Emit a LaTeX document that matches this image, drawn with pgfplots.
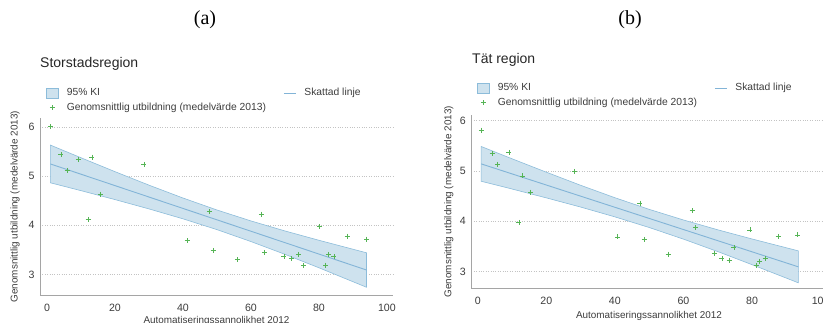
\documentclass[border=0pt]{standalone}
\usepackage{pgfplots}
\pgfplotsset{compat=1.18}
\usepackage{fontspec}
\setmainfont{Liberation Sans}
\newfontfamily\timesfont{Liberation Serif}
\definecolor{bandfill}{RGB}{206,226,238}
\definecolor{bandedge}{RGB}{140,188,218}
\definecolor{linecol}{RGB}{130,180,215}
\definecolor{ptcol}{RGB}{85,180,85}
\definecolor{axcol}{RGB}{165,165,165}
\definecolor{gridcol}{RGB}{195,195,195}
\definecolor{txtcol}{RGB}{60,60,60}
\pgfplotsset{
  panel/.style={
    scale only axis,
    axis x line*=bottom, axis y line*=left,
    axis line style={axcol, line width=0.9pt},
    xtick={0,20,...,100}, ytick={3,4,5,6},
    major tick length=0pt,
    ymajorgrids, grid style={gridcol, dotted, line width=0.7pt},
    /pgf/number format/assume math mode=true,
    tick label style={font=\fontsize{10.6}{10.6}\selectfont, text=txtcol},
    xticklabel style={anchor=center, yshift=-12.5pt},
    yticklabel style={anchor=center, xshift=-8.4pt},
    label style={font=\fontsize{9.9}{9.9}\selectfont, text=txtcol},
    xlabel={Automatiseringssannolikhet 2012},
    ylabel={Genomsnittlig utbildning (medelvärde 2013)},
    legend columns=2,
    legend cell align=left,
    legend style={draw=none, fill=none, inner sep=0pt, anchor=north west,
      font=\fontsize{10.3}{10.3}\selectfont, text=txtcol,
      nodes={inner sep=1.5pt, text height=7.2pt, text depth=2pt},
      row sep=2.5pt,
      /tikz/every odd column/.style={column sep=6.5pt},
      /tikz/every even column/.style={column sep=16pt}},
  },
  bandleg/.style={legend image code/.code={\draw[##1] (0pt,-5pt) rectangle (12pt,5pt);}},
  lineleg/.style={legend image code/.code={\draw[##1] (0pt,0pt) -- (12pt,0pt);}},
  markleg/.style={legend image code/.code={\draw[##1] plot coordinates {(6pt,0pt)};}},
}
\begin{document}
\begin{tikzpicture}[x=1pt,y=1pt]
\node[font=\timesfont\fontsize{20}{20}\selectfont] at (205,303) {(a)};
\node[font=\timesfont\fontsize{20}{20}\selectfont] at (630,303) {(b)};
\node[anchor=west, font=\fontsize{14}{14}\selectfont, text=black!85, inner sep=0pt] at (40,259.5) {Storstadsregion};
\node[anchor=west, font=\fontsize{14}{14}\selectfont, text=black!85, inner sep=0pt] at (472,262.8) {Tät region};

% ---------- (a) Storstadsregion ----------
\begin{axis}[panel,
  at={(40pt,28pt)}, anchor=south west,
  width=353pt, height=176.7pt,
  xmin=-2.06, xmax=101.8, ymin=2.58, ymax=6.18,
  xlabel style={at={(axis description cs:0.5,-0.147)}, anchor=center},
  ylabel style={at={(axis description cs:-0.0708,0.5)}, anchor=center},
  legend style={at={(axis description cs:0.017,1.178)}},
]
\addlegendimage{bandleg, fill=bandfill, draw=bandedge, line width=0.6pt}
\addlegendentry{95\% KI}
\addlegendimage{lineleg, linecol, line width=0.9pt}
\addlegendentry{Skattad linje}
\addlegendimage{markleg, only marks, mark=+, mark size=2.5pt, ptcol, mark options={line width=0.7pt}}
\addlegendentry{Genomsnittlig utbildning (medelvärde 2013)}
\addplot[forget plot, fill=bandfill, draw=bandedge, line width=0.6pt] coordinates {
(1,5.634)(10,5.376)(20,5.093)(30,4.818)(40,4.556)(50,4.312)(60,4.089)(70,3.885)(80,3.695)(94,3.440)
(94,2.738)(80,3.135)(70,3.409)(60,3.669)(50,3.912)(40,4.132)(30,4.334)(20,4.524)(10,4.706)(1,4.866)
} -- cycle;
\addplot[forget plot, linecol, line width=0.9pt] coordinates {(1,5.250)(94,3.089)};
\addplot[forget plot, only marks, mark=+, mark size=2.5pt, ptcol, mark options={line width=0.7pt}] coordinates {
(0.98,6.01)(4.1,5.44)(5.9,5.12)(9.2,5.34)(13.2,5.39)(12.1,4.12)(15.6,4.63)(28.5,5.24)
(41.2,3.69)(47.8,4.28)(48.9,3.49)(56.0,3.30)(63.1,4.23)(64.0,3.45)(69.7,3.37)(71.8,3.32)
(74.0,3.41)(75.4,3.18)(80.2,3.97)(82.0,3.19)(82.8,3.41)(84.4,3.36)(88.3,3.78)(94.1,3.72)
};
\end{axis}

% ---------- (b) Tät region ----------
\begin{axis}[panel,
  at={(471.3pt,34.7pt)}, anchor=south west,
  width=355.5pt, height=173.3pt,
  xmin=-1.87, xmax=101.8, ymin=2.67, ymax=6.11,
  xlabel style={at={(axis description cs:0.5,-0.16)}, anchor=center},
  ylabel style={at={(axis description cs:-0.0636,0.5)}, anchor=center},
  legend style={at={(axis description cs:0.016,1.192)}},
]
\addlegendimage{bandleg, fill=bandfill, draw=bandedge, line width=0.6pt}
\addlegendentry{95\% KI}
\addlegendimage{lineleg, linecol, line width=0.9pt}
\addlegendentry{Skattad linje}
\addlegendimage{markleg, only marks, mark=+, mark size=2.5pt, ptcol, mark options={line width=0.7pt}}
\addlegendentry{Genomsnittlig utbildning (medelvärde 2013)}
\addplot[forget plot, fill=bandfill, draw=bandedge, line width=0.6pt] coordinates {
(1,5.485)(10,5.241)(20,4.975)(30,4.715)(40,4.468)(50,4.237)(60,4.026)(70,3.831)(80,3.649)(93.5,3.413)
(93.5,2.779)(80,3.139)(70,3.399)(60,3.646)(50,3.877)(40,4.088)(30,4.283)(20,4.465)(10,4.641)(1,4.795)
} -- cycle;
\addplot[forget plot, linecol, line width=0.9pt] coordinates {(1,5.140)(93.5,3.096)};
\addplot[forget plot, only marks, mark=+, mark size=2.5pt, ptcol, mark options={line width=0.7pt}] coordinates {
(1.07,5.81)(4.2,5.34)(5.8,5.13)(9.1,5.37)(13.1,4.90)(12.0,3.98)(15.4,4.58)(28.3,4.99)
(40.8,3.69)(47.3,4.36)(48.5,3.64)(55.5,3.35)(62.5,4.21)(63.5,3.87)(69.0,3.36)(71.2,3.26)
(73.3,3.23)(74.7,3.48)(79.4,3.83)(81.2,3.12)(82.1,3.21)(83.8,3.27)(87.6,3.70)(93.3,3.73)
};
\end{axis}
\pgfresetboundingbox
\useasboundingbox (0,0) rectangle (823,323);
\end{tikzpicture}
\end{document}
